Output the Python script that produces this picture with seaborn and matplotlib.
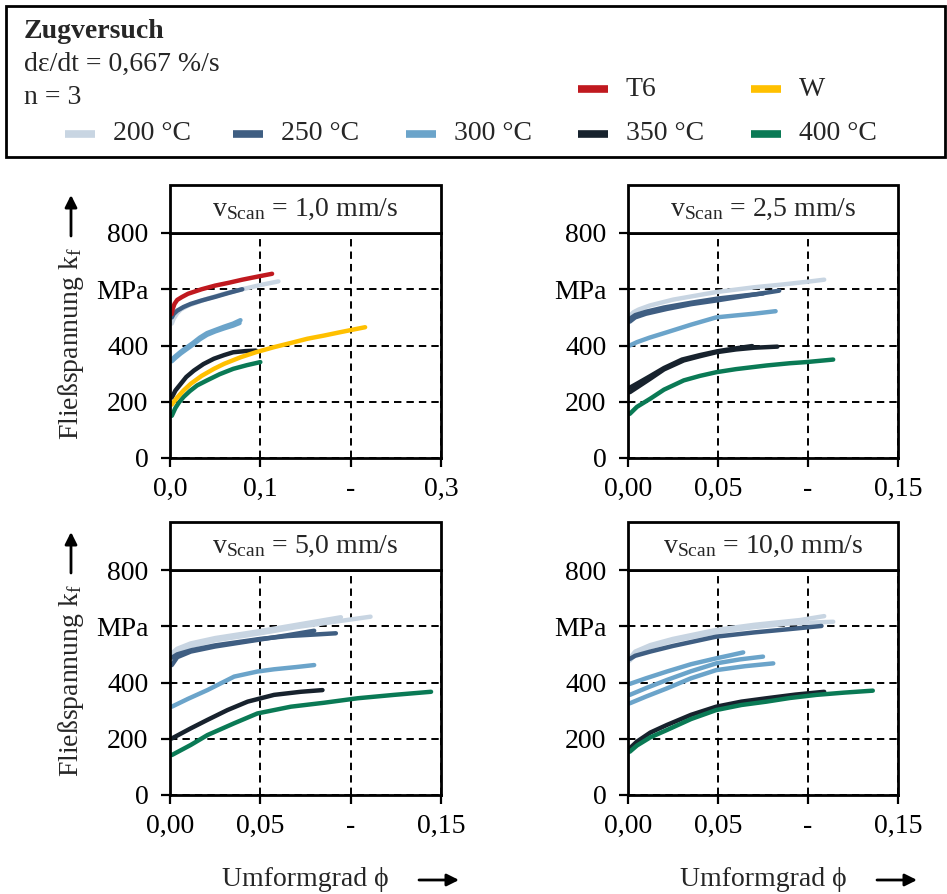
import matplotlib
matplotlib.use("Agg")
import matplotlib.pyplot as plt
import seaborn as sns
import pandas as pd
from matplotlib.patches import Rectangle, FancyArrowPatch
from matplotlib.lines import Line2D

# ---------------- data ----------------
# each entry: series -> list of replicate curves (phi list, kf list)
v1_0 = {
    "200 °C": [([0.002, 0.004, 0.008, 0.012, 0.02, 0.04, 0.06, 0.08, 0.1, 0.12],
                [478, 495, 515, 528, 542, 565, 584, 600, 615, 628])],
    "250 °C": [([0.002, 0.004, 0.008, 0.015, 0.023, 0.035, 0.05, 0.065, 0.08],
                [500, 512, 524, 537, 548, 560, 573, 587, 600])],
    "300 °C": [([0.002, 0.006, 0.012, 0.018, 0.025, 0.033, 0.041, 0.05, 0.06, 0.07, 0.078],
                [350, 362, 378, 392, 408, 428, 444, 455, 467, 478, 490]),
               ([0.002, 0.006, 0.012, 0.018, 0.025, 0.033, 0.041, 0.05, 0.06, 0.07, 0.077],
                [344, 356, 372, 386, 402, 422, 438, 450, 461, 471, 480])],
    "350 °C": [([0.002, 0.006, 0.012, 0.018, 0.0265, 0.037, 0.0486, 0.06, 0.07, 0.083, 0.095],
                [215, 240, 264, 288, 311, 334, 353, 366, 376, 380, 382])],
    "400 °C": [([0.002, 0.006, 0.01, 0.015, 0.022, 0.03, 0.041, 0.055, 0.07, 0.085, 0.1],
                [150, 178, 198, 217, 238, 258, 276, 298, 317, 330, 341])],
    "W":      [([0.002, 0.008, 0.015, 0.023, 0.035, 0.0486, 0.06, 0.078, 0.095, 0.115,
                 0.135, 0.152, 0.17, 0.188, 0.205, 0.216],
                [190, 215, 240, 264, 292, 317, 335, 358, 376, 394, 410, 424, 435, 447, 458, 465])],
    "T6":     [([0.002, 0.003, 0.005, 0.008, 0.013, 0.02, 0.035, 0.05, 0.065, 0.08, 0.097, 0.113],
                [512, 530, 548, 562, 572, 584, 600, 613, 623, 634, 645, 655])],
}
v2_5 = {
    "200 °C": [([0.001, 0.003, 0.006, 0.012, 0.025, 0.049, 0.07, 0.086, 0.1, 0.109],
                [505, 518, 528, 542, 563, 590, 607, 617, 627, 634])],
    "250 °C": [([0.001, 0.004, 0.01, 0.0216, 0.035, 0.049, 0.065, 0.084],
                [485, 500, 513, 530, 547, 560, 576, 595]),
               ([0.001, 0.004, 0.01, 0.02, 0.035, 0.05, 0.065, 0.075],
                [495, 508, 520, 535, 552, 567, 578, 585])],
    "300 °C": [([0.001, 0.005, 0.012, 0.0216, 0.035, 0.049, 0.06, 0.07, 0.082],
                [400, 412, 428, 447, 474, 500, 507, 513, 522])],
    "350 °C": [([0.001, 0.006, 0.0124, 0.02, 0.031, 0.04, 0.049, 0.06, 0.07, 0.083],
                [234, 255, 282, 315, 347, 362, 376, 386, 392, 396]),
               ([0.001, 0.006, 0.012, 0.02, 0.03, 0.04, 0.05, 0.06, 0.069],
                [250, 268, 290, 320, 350, 366, 380, 390, 398])],
    "400 °C": [([0.001, 0.005, 0.0124, 0.02, 0.031, 0.04, 0.049, 0.06, 0.077, 0.09, 0.099, 0.114],
                [157, 182, 211, 243, 276, 292, 305, 316, 329, 337, 341, 350])],
}
v5_0 = {
    "200 °C": [([0.001, 0.004, 0.0115, 0.025, 0.048, 0.07, 0.0946],
                [504, 520, 539, 558, 581, 605, 632]),
               ([0.001, 0.004, 0.012, 0.025, 0.05, 0.07, 0.09, 0.111],
                [492, 510, 530, 550, 575, 597, 615, 634])],
    "250 °C": [([0.001, 0.004, 0.0115, 0.025, 0.048, 0.065, 0.0798],
                [462, 490, 510, 528, 551, 568, 584]),
               ([0.001, 0.004, 0.012, 0.025, 0.05, 0.065, 0.076, 0.0918],
                [488, 500, 515, 532, 555, 565, 569, 575])],
    "300 °C": [([0.001, 0.01, 0.0207, 0.0355, 0.0484, 0.0576, 0.07, 0.0798],
                [314, 342, 373, 421, 439, 447, 455, 462])],
    "350 °C": [([0.001, 0.0115, 0.0207, 0.0318, 0.043, 0.0576, 0.0724, 0.0844],
                [201, 237, 267, 302, 332, 356, 367, 373])],
    "400 °C": [([0.001, 0.0115, 0.0207, 0.0355, 0.0484, 0.0669, 0.0853, 0.1039, 0.124, 0.1445],
                [142, 178, 213, 255, 290, 314, 328, 344, 356, 367])],
}
v10_0 = {
    "200 °C": [([0.001, 0.004, 0.0124, 0.025, 0.049, 0.07, 0.0955, 0.109],
                [486, 510, 533, 555, 587, 605, 622, 636]),
               ([0.001, 0.004, 0.012, 0.025, 0.05, 0.07, 0.09, 0.114],
                [478, 500, 525, 548, 580, 597, 610, 616])],
    "250 °C": [([0.001, 0.004, 0.0124, 0.025, 0.049, 0.07, 0.09, 0.1075],
                [484, 495, 510, 530, 563, 578, 590, 601])],
    "300 °C": [([0.001, 0.01, 0.0216, 0.035, 0.049, 0.057, 0.064],
                [395, 415, 439, 465, 486, 497, 507]),
               ([0.001, 0.01, 0.0216, 0.035, 0.049, 0.062, 0.075],
                [356, 380, 409, 440, 468, 482, 492]),
               ([0.001, 0.01, 0.0216, 0.035, 0.049, 0.065, 0.0807],
                [326, 350, 379, 415, 444, 458, 468])],
    "350 °C": [([0.001, 0.005, 0.0124, 0.0216, 0.035, 0.049, 0.063, 0.077, 0.093, 0.109],
                [166, 190, 222, 249, 285, 314, 332, 344, 357, 367])],
    "400 °C": [([0.001, 0.005, 0.0124, 0.0216, 0.035, 0.049, 0.063, 0.077, 0.09, 0.1047, 0.12, 0.136],
                [154, 176, 205, 231, 270, 302, 320, 332, 345, 356, 364, 371])],
}

panel_titles = ["1,0", "2,5", "5,0", "10,0"]
xticks_wide = [0.0, 0.1, 0.2, 0.3]
xlabels_wide = ["0,0", "0,1", "-", "0,3"]
xticks_narrow = [0.0, 0.05, 0.10, 0.15]
xlabels_narrow = ["0,00", "0,05", "-", "0,15"]
yticks = [0, 200, 400, 600, 800]
ylabels = ["0", "200", "400", "MPa", "800"]

series_order = ["200 °C", "250 °C", "300 °C", "350 °C", "400 °C", "W", "T6"]
colors = {
    "200 °C": "#C8D5E2",
    "250 °C": "#3F5E82",
    "300 °C": "#6BA4CA",
    "350 °C": "#17222D",
    "400 °C": "#0A7A55",
    "T6": "#C0191F",
    "W": "#FFC000",
}

# ---------------- style ----------------
sns.set_theme(style="white")
plt.rcParams['font.family'] = ['Liberation Serif', 'DejaVu Serif']
plt.rcParams['mathtext.fontset'] = 'custom'
plt.rcParams['mathtext.rm'] = 'Liberation Serif'
plt.rcParams['mathtext.it'] = 'Liberation Serif:italic'
FS = 20

W_PX, H_PX = 947, 894
fig = plt.figure(figsize=(W_PX / 100, H_PX / 100), dpi=100)


def fx(px):
    return px / W_PX


def fy(py):
    return 1 - py / H_PX


# panel pixel boxes: (left, right, top, bottom)
boxes = [(170, 441, 233, 458), (628, 898, 233, 458), (170, 441, 570, 795), (628, 898, 570, 795)]
datasets = [v1_0, v2_5, v5_0, v10_0]

for i, ((l, r, t, b), data) in enumerate(zip(boxes, datasets)):
    ax = fig.add_axes([fx(l), fy(b), fx(r - l), (b - t) / H_PX])
    for name in series_order:
        if name not in data:
            continue
        for phi, kf in data[name]:
            df = pd.DataFrame({"phi": phi, "kf": kf})
            sns.lineplot(data=df, x="phi", y="kf", ax=ax, color=colors[name], lw=3.2,
                         estimator=None, sort=False, legend=False, zorder=3,
                         solid_capstyle="round", solid_joinstyle="round")
    if i == 0:
        ax.set_xlim(0, 0.3)
        ax.set_xticks(xticks_wide)
        ax.set_xticklabels(xlabels_wide)
    else:
        ax.set_xlim(0, 0.15)
        ax.set_xticks(xticks_narrow)
        ax.set_xticklabels(xlabels_narrow)
    ax.set_ylim(0, 800)
    ax.set_yticks(yticks)
    ax.set_yticklabels(ylabels)
    ax.set_xlabel("")
    ax.set_ylabel("")
    ax.grid(True, color="black", lw=1.4, ls=(0, (3.8, 2.6)))
    ax.set_axisbelow(True)
    for s in ax.spines.values():
        s.set_color("black")
        s.set_linewidth(2)
        s.set_zorder(5)
    ax.tick_params(axis="both", which="major", direction="out", length=6.5, width=1.6,
                   color="black", labelsize=FS, labelcolor="black", left=True, bottom=True)
    ax.tick_params(axis="y", pad=9)
    ax.tick_params(axis="x", pad=7)
    # header box
    hh = 48 / (b - t)
    ax.add_patch(Rectangle((0, 1), 1, hh, transform=ax.transAxes, clip_on=False,
                           facecolor="white", edgecolor="black", lw=2, zorder=6))
    ax.text(0.5, 1 + hh / 2, r"v$_{\mathrm{Scan}}$ = " + panel_titles[i] + " mm/s",
            transform=ax.transAxes, ha="center", va="center", fontsize=FS, zorder=7)

# y labels with arrows (left column)
for (t, b), arrow_base, arrow_tip in [((233, 458), 236, 195), ((570, 795), 573, 532)]:
    fig.text(fx(71), fy((t + b) / 2 - 2), r"Fließspannung k$_{\mathrm{f}}$", rotation=90,
             ha="center", va="center", fontsize=FS)
    fig.add_artist(FancyArrowPatch(
        (fx(71), fy(arrow_base)), (fx(71), fy(arrow_tip)), transform=fig.transFigure,
        arrowstyle="-|>", mutation_scale=18, lw=2, color="black", shrinkA=0, shrinkB=0))

# x labels with arrows (bottom row)
for cx, a0, a1 in [(305, 419, 459), (763, 877, 917)]:
    fig.text(fx(cx), fy(880), "Umformgrad ϕ", ha="center", va="center", fontsize=FS)
    fig.add_artist(FancyArrowPatch(
        (fx(a0), fy(880)), (fx(a1), fy(880)), transform=fig.transFigure,
        arrowstyle="-|>", mutation_scale=18, lw=2, color="black", shrinkA=0, shrinkB=0))

# legend box
fig.add_artist(Rectangle((fx(6), fy(157)), fx(939), 151 / H_PX, transform=fig.transFigure,
                         facecolor="white", edgecolor="black", lw=2, zorder=0))
fig.text(fx(24), fy(32), "Zugversuch", fontsize=FS, fontweight="bold", va="center", ha="left")
fig.text(fx(24), fy(64), "dε/dt = 0,667 %/s", fontsize=FS, va="center", ha="left")
fig.text(fx(24), fy(97), "n = 3", fontsize=FS, va="center", ha="left")

legend_items = [("T6", 578, 89), ("W", 751, 89),
                ("200 °C", 65, 134), ("250 °C", 233, 134), ("300 °C", 406, 134),
                ("350 °C", 578, 134), ("400 °C", 751, 134)]
for name, x0, y0 in legend_items:
    fig.add_artist(Line2D([fx(x0), fx(x0 + 30)], [fy(y0), fy(y0)], transform=fig.transFigure,
                          color=colors[name], lw=5.5, solid_capstyle="butt"))
    fig.text(fx(x0 + 48), fy(y0), name, fontsize=FS, va="center", ha="left")

fig.savefig("out.png", dpi=100)
